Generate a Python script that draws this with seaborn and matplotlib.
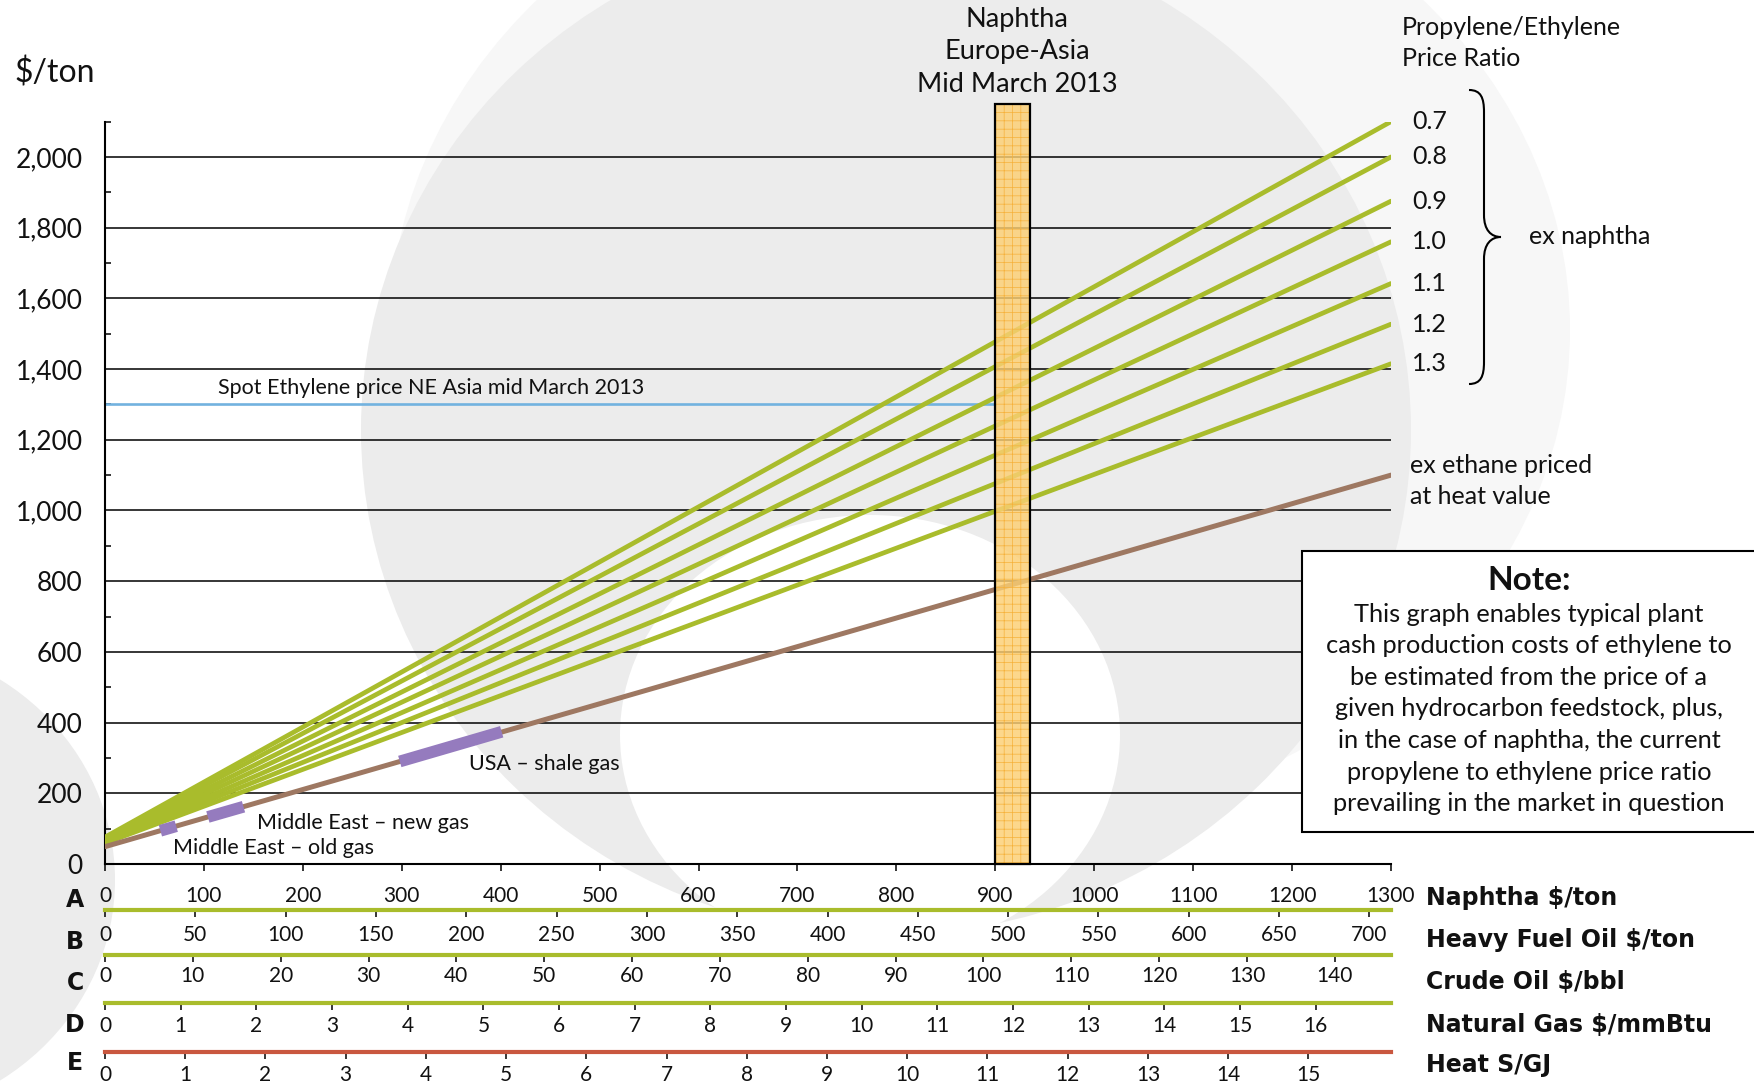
import numpy as np
import pandas as pd
import seaborn as sns
import matplotlib.pyplot as plt
from matplotlib.patches import Ellipse, Rectangle, PathPatch
from matplotlib.path import Path
from matplotlib.ticker import MultipleLocator, FixedLocator, FuncFormatter

sns.set_theme(style="white")
plt.rcParams['font.family'] = ['Lato', 'DejaVu Sans']
plt.rcParams['hatch.linewidth'] = 0.5

# ---- data ----
naphtha_ends = [0, 1300]
ratios = ['0.7', '0.8', '0.9', '1.0', '1.1', '1.2', '1.3']
cost_at_0 = [76, 73, 70, 67, 64, 62, 59]
cost_at_1300 = [2100, 2000, 1875, 1760, 1642, 1527, 1415]
ethane_cost = [49, 1100]

spot_price = 1300
spot_x = [0, 900]
naphtha_mar13 = [900, 935]
naphtha_bar_top = 2150

region_names = ['Middle East – old gas', 'Middle East – new gas', 'USA – shale gas']
region_x = [(56, 72), (104, 140), (298, 401)]
region_y = [(94, 107), (133, 162), (290, 374)]
region_label_xy = [(69, 45), (154, 116), (368, 283)]

naphtha_ticks = list(range(0, 1301, 100))
hfo_ticks = list(range(0, 701, 50))
crude_ticks = list(range(0, 141, 10))
gas_ticks = list(range(0, 17))
heat_ticks = list(range(0, 16))
# naphtha $/ton equivalent of one unit of each other feedstock scale
hfo_factor = 1.826
crude_factor = 8.88
gas_factor = 76.5
heat_factor = 81.1

row_letters = ['A', 'B', 'C', 'D', 'E']
row_titles = ['Naphtha $/ton', 'Heavy Fuel Oil $/ton', 'Crude Oil $/bbl',
              'Natural Gas $/mmBtu', 'Heat S/GJ']

note_text = ("This graph enables typical plant\n"
             "cash production costs of ethylene to\n"
             "be estimated from the price of a\n"
             "given hydrocarbon feedstock, plus,\n"
             "in the case of naphtha, the current\n"
             "propylene to ethylene price ratio\n"
             "prevailing in the market in question")

GREEN = '#A9BC2C'
BROWN = '#9E7862'
PURPLE = '#957BBE'
BLUE = '#72B2DF'
RED = '#C9573F'
INK = '#111111'

W, H = 1754, 1091
fig = plt.figure(figsize=(W / 100, H / 100), dpi=100)
fig.patch.set_facecolor('white')

# background watermark
bg = fig.add_axes([0, 0, 1, 1], zorder=-2)
bg.set_xlim(0, W)
bg.set_ylim(H, 0)
bg.axis('off')
bg.add_patch(Ellipse((980, 330), 1180, 1000, color='#F7F7F7', lw=0))
bg.add_patch(Ellipse((886, 430), 1050, 1010, color='#ECECEC', lw=0))
bg.add_patch(Ellipse((870, 735), 500, 440, color='white', lw=0))
bg.add_patch(Ellipse((-140, 880), 510, 480, color='#ECECEC', lw=0))

# main axes
x0, x1, y0, ytop = 105, 1391, 864, 121.6
ax = fig.add_axes([x0 / W, 1 - y0 / H, (x1 - x0) / W, (y0 - ytop) / H])
ax.set_facecolor('none')
ax.set_xlim(0, 1300)
ax.set_ylim(0, 2100)

df = pd.DataFrame({
    'naphtha': naphtha_ends * len(ratios),
    'cost': [v for pair in zip(cost_at_0, cost_at_1300) for v in pair],
    'ratio': [r for r in ratios for _ in naphtha_ends],
})
sns.lineplot(data=df, x='naphtha', y='cost', hue='ratio', palette=[GREEN] * len(ratios),
             legend=False, linewidth=3.4, ax=ax, zorder=3)
sns.lineplot(x=naphtha_ends, y=ethane_cost, color=BROWN, linewidth=3.6, ax=ax, zorder=3)
ax.plot(spot_x, [spot_price, spot_price], color=BLUE, lw=1.9, zorder=2)

for (xa, xb), (ya, yb) in zip(region_x, region_y):
    ax.plot([xa, xb], [ya, yb], color=PURPLE, lw=8.5, solid_capstyle='butt', zorder=4)
for name, (tx, ty) in zip(region_names, region_label_xy):
    ax.text(tx, ty, name, fontsize=15.5, va='center', ha='left', color=INK, zorder=5)
ax.text(114, 1347, 'Spot Ethylene price NE Asia mid March 2013', fontsize=15.5,
        va='center', ha='left', color=INK)

# naphtha price bar
bw = naphtha_mar13[1] - naphtha_mar13[0]
ax.add_patch(Rectangle((naphtha_mar13[0], 0), bw, naphtha_bar_top, facecolor=(0.99, 0.81, 0.45, 0.82),
                       edgecolor='#F6B13A', hatch='++', lw=0, clip_on=False, zorder=6))
ax.add_patch(Rectangle((naphtha_mar13[0], 0), bw, naphtha_bar_top, fill=False,
                       edgecolor='black', lw=1.6, clip_on=False, zorder=7))

# axes styling
ax.grid(axis='y', color='black', lw=1.1)
ax.grid(axis='x', visible=False)
for s in ['top', 'right']:
    ax.spines[s].set_visible(False)
for s in ['left', 'bottom']:
    ax.spines[s].set_color('black')
    ax.spines[s].set_linewidth(1.5)
ax.spines['left'].set_bounds(0, 2100)
ax.yaxis.set_major_locator(MultipleLocator(200))
ax.yaxis.set_minor_locator(FixedLocator(list(range(100, 2101, 200))))
ax.yaxis.set_major_formatter(FuncFormatter(lambda v, p: f'{int(v):,}' if v <= 2000 else ''))
ax.tick_params(axis='y', which='major', length=0, pad=16, labelsize=19, labelcolor=INK)
ax.tick_params(axis='y', which='minor', direction='in', length=4, width=1.1, color='black', left=True)
ax.set_xticks(naphtha_ticks)
ax.set_xticklabels([str(t) for t in naphtha_ticks])
ax.tick_params(axis='x', which='major', direction='out', length=5, width=1.1, color='black',
               bottom=True, pad=11, labelsize=15, labelcolor=INK)
ax.set_xlabel('')
ax.set_ylabel('')

# ratio labels at line ends
for r, v in zip(ratios, cost_at_1300):
    ax.text(1321, v, r, fontsize=18, va='center', ha='left', color=INK, clip_on=False)

# secondary scales below
scales = [(hfo_ticks, hfo_factor, GREEN, 910, 6.0),
          (crude_ticks, crude_factor, GREEN, 955, 3.2),
          (gas_ticks, gas_factor, GREEN, 1003, 4.6),
          (heat_ticks, heat_factor, RED, 1052, 4.6)]
for ticks, fac, col, yl, pad in scales:
    sa = fig.add_axes([x0 / W, 1 - yl / H, (x1 - x0) / W, 0.0001])
    sa.set_facecolor('none')
    sa.set_xlim(0, 1300)
    sa.set_yticks([])
    for s in ['top', 'right', 'left']:
        sa.spines[s].set_visible(False)
    sa.spines['bottom'].set_color(col)
    sa.spines['bottom'].set_linewidth(3)
    sa.set_xticks([t * fac for t in ticks])
    sa.set_xticklabels([str(t) for t in ticks])
    sa.tick_params(axis='x', direction='out', length=5, width=1.1, color='black',
                   bottom=True, pad=pad, labelsize=15, labelcolor=INK)

# overlay texts in pixel coordinates
ov = fig.add_axes([0, 0, 1, 1], zorder=10)
ov.set_xlim(0, W)
ov.set_ylim(H, 0)
ov.axis('off')
ov.set_facecolor('none')

ov.text(14, 73, '$/ton', fontsize=23, va='center', ha='left', color=INK)
ov.text(1017, 52, 'Naphtha\nEurope-Asia\nMid March 2013', fontsize=19.5, ha='center', va='center',
        linespacing=1.38, color=INK)
ov.text(1402, 43, 'Propylene/Ethylene\nPrice Ratio', fontsize=18, ha='left', va='center',
        linespacing=1.45, color=INK)
ov.text(1529, 237, 'ex naphtha', fontsize=18, ha='left', va='center', color=INK)
ov.text(1410, 481, 'ex ethane priced\nat heat value', fontsize=18, ha='left', va='center',
        linespacing=1.38, color=INK)

bx = 1484
brace = Path([(bx - 15, 90), (bx - 3, 90), (bx, 98), (bx, 112), (bx, 215),
              (bx, 230), (bx + 7, 237), (bx + 17, 237),
              (bx + 7, 237), (bx, 244), (bx, 259), (bx, 362),
              (bx, 376), (bx - 3, 384), (bx - 15, 384)],
             [Path.MOVETO, Path.CURVE4, Path.CURVE4, Path.CURVE4, Path.LINETO,
              Path.CURVE4, Path.CURVE4, Path.CURVE4,
              Path.CURVE4, Path.CURVE4, Path.CURVE4, Path.LINETO,
              Path.CURVE4, Path.CURVE4, Path.CURVE4])
ov.add_patch(PathPatch(brace, fill=False, edgecolor='black', lw=1.5))

ov.add_patch(Rectangle((1302, 551), 470, 281, facecolor='white', edgecolor='black', lw=1.5))
ov.text(1529, 580, 'Note:', fontsize=24, fontweight='bold', ha='center', va='center', color=INK)
ov.text(1529, 709, note_text, fontsize=18.3, ha='center', va='center', linespacing=1.45, color=INK)

bold_fam = ['Liberation Sans Narrow', 'DejaVu Sans']
for lt, yy in zip(row_letters, [900, 942, 983, 1025, 1063]):
    ov.text(75, yy, lt, fontsize=17, fontweight='bold', ha='center', va='center',
            family=bold_fam, color=INK)
for tt, yy in zip(row_titles, [898, 940, 982, 1025, 1065]):
    ov.text(1426, yy, tt, fontsize=17, fontweight='bold', ha='left', va='center',
            family=bold_fam, color=INK)

fig.savefig('out.png', dpi=100)
